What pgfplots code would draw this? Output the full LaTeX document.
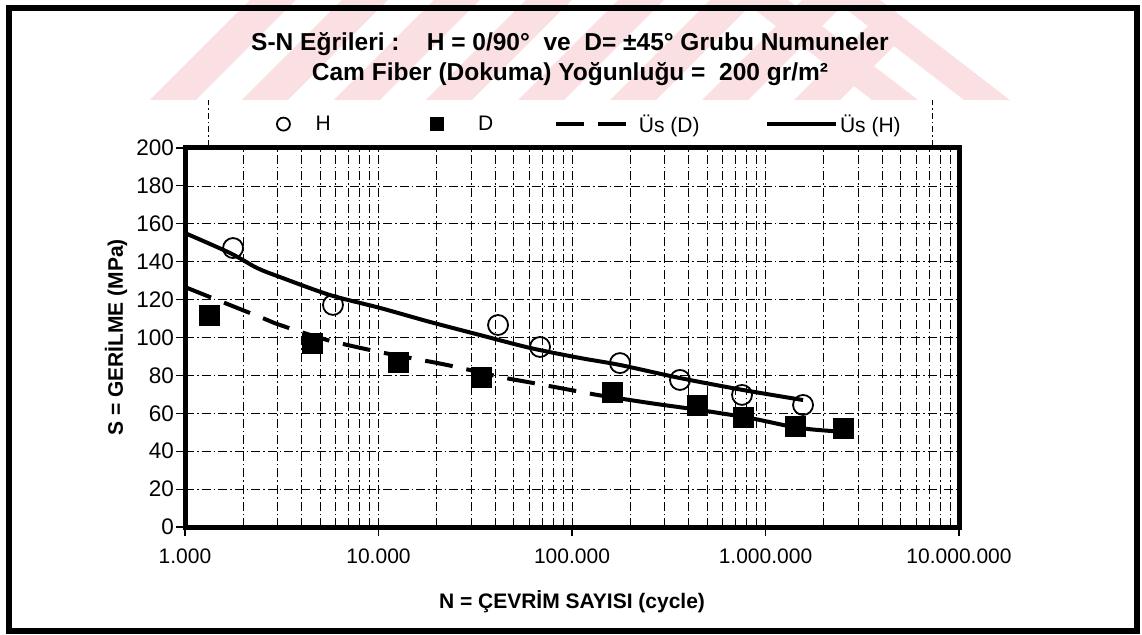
\documentclass[border=0pt]{standalone}
\usepackage{pgfplots}
\pgfplotsset{compat=1.18}
\usepackage{fontspec}
\setmainfont{Liberation Sans}
\definecolor{wm}{RGB}{250,224,227}
\pgfplotsset{
  legH/.style={legend image code/.code={\path (-30pt,0pt) (30pt,0pt); \draw[##1, mark size=6.5pt] plot coordinates {(0pt,0pt)};}},
  legD/.style={legend image code/.code={\path (-103.8pt,0pt) (39pt,0pt); \draw[##1, mark size=6.5pt] plot coordinates {(0pt,0pt)};}},
  legUD/.style={legend image code/.code={\path (-58.8pt,0pt) (79pt,0pt); \draw[##1] (0pt,0pt) -- (79pt,0pt);}},
  legUH/.style={legend image code/.code={\path (-63.4pt,0pt) (69pt,0pt); \draw[##1] (0pt,0pt) -- (69pt,0pt);}},
}
\begin{document}
\begin{tikzpicture}[x=1pt,y=1pt]
\path[use as bounding box] (0,0) rectangle (1142,634);
% watermark (decoration)
\begin{scope}
\clip (150,534) -- (1010,534) -- (880,634) -- (250,634) -- cycle;
\foreach \s in {0,92,...,644} { \fill[wm] (150+\s,534) -- ++(46,0) -- ++(100,100) -- ++(-46,0) -- cycle; }
\foreach \s in {0,92} { \fill[wm] (1010-\s,534) -- ++(-46,0) -- ++(-130,100) -- ++(46,0) -- cycle; }
\end{scope}
% legend box borders
\draw[black, line width=0.7pt, dash pattern=on 6pt off 3pt on 1.5pt off 3pt] (208,488) -- (208,534);
\draw[black, line width=0.7pt, dash pattern=on 6pt off 3pt on 1.5pt off 3pt] (932,488) -- (932,534);
% titles
\node[font=\bfseries\fontsize{24.5pt}{28pt}\selectfont] at (570,590) {S-N Eğrileri :\ \ \ \ H = 0/90°\ \ ve\ \ D= ±45° Grubu Numuneler};
\node[font=\bfseries\fontsize{24.5pt}{28pt}\selectfont] at (570,560) {Cam Fiber (Dokuma) Yoğunluğu =\ \ 200 gr/m²};
\begin{axis}[
  at={(185pt,107pt)}, anchor=south west,
  scale only axis, width=774pt, height=379pt,
  xmode=log, log basis x=10,
  xmin=1000, xmax=10000000, ymin=0, ymax=200,
  xtick={1000,10000,100000,1000000,10000000},
  xticklabels={1.000,10.000,100.000,1.000.000,10.000.000},
  minor xtick={2000,3000,4000,5000,6000,7000,8000,9000,
    20000,30000,40000,50000,60000,70000,80000,90000,
    200000,300000,400000,500000,600000,700000,800000,900000,
    2000000,3000000,4000000,5000000,6000000,7000000,8000000,9000000},
  ytick={0,20,...,200},
  xtick pos=left, ytick pos=left,
  tick align=outside, major tick length=9pt, minor tick length=0pt,
  tick style={black, line width=1.2pt},
  axis line style={line width=5pt},
  xmajorgrids, xminorgrids, ymajorgrids,
  major grid style={black, line width=0.6pt, dash pattern=on 9pt off 3pt on 1.5pt off 3pt},
  minor grid style={black, line width=0.6pt, dash pattern=on 9pt off 3pt on 1.5pt off 3pt},
  xticklabel style={font=\fontsize{21pt}{25pt}\selectfont, inner sep=2pt, yshift=-11pt},
  yticklabel style={font=\fontsize{22.5pt}{26pt}\selectfont, /pgf/number format/assume math mode=true, inner sep=2pt},
  xlabel={N = ÇEVRİM SAYISI (cycle)},
  ylabel={S = GERİLME (MPa)},
  xlabel style={at={(axis description cs:0.5,-0.198)}, anchor=center, font=\bfseries\fontsize{21pt}{25pt}\selectfont},
  ylabel style={at={(axis description cs:-0.0891,0.5)}, anchor=center, font=\bfseries\fontsize{21pt}{25pt}\selectfont},
  legend columns=4,
  legend cell align=left,
  legend style={at={(axis description cs:0.0879,1.063)}, anchor=west, fill=none, draw=none,
    inner sep=0pt, font=\fontsize{21pt}{25pt}\selectfont, nodes={inner sep=2pt},
    /tikz/every even column/.style={column sep=0pt}, /tikz/every odd column/.style={column sep=0pt}},
]
% H points
\addplot[only marks, mark=o, mark size=10pt, mark options={solid, black, line width=1.8pt}, legH]
  coordinates {(1771,147.2) (5818,117.2) (41470,106.6) (68350,95.0) (177000,86.5) (361500,77.6) (756000,69.7) (1563000,64.4)};
\addlegendentry{H}
% D points
\addplot[only marks, mark=square*, mark size=10pt, mark options={solid, black}, legD]
  coordinates {(1331,111.9) (4531,97.1) (12610,87.1) (33880,79.2) (160900,71.2) (442500,64.4) (765000,58.0) (1420000,53.3) (2516000,52.2)};
\addlegendentry{D}
% Us (D) dashed part
\addplot[black, line width=4pt, dash pattern=on 28pt off 14pt, smooth, legUD]
  coordinates {(1000,126.6) (2442,110.8) (3097,106.6) (5420,98.7) (10180,92.3) (22600,85.5) (42460,79.2) (62850,76.0) (134600,69.7)};
\addlegendentry{Üs (D)}
% Us (H)
\addplot[black, line width=4pt, smooth, legUH]
  coordinates {(1000,155.1) (1708,144.6) (2355,136.7) (3097,131.9) (5615,122.4) (10180,115.6) (18460,108.2) (33470,101.3) (60670,94.5) (109900,89.2) (177000,85.5) (361500,78.6) (765000,72.3) (1563000,67.0)};
\addlegendentry{Üs (H)}
% Us (D) solid-looking part
\addplot[black, line width=4pt, smooth, forget plot]
  coordinates {(134600,69.7) (253000,65.4) (458500,61.7) (831000,57.5) (1507000,52.2) (2638000,50.1)};
\end{axis}
% outer frame
\draw[black, line width=6pt] (8.5,3) rectangle (1136.5,625.5);
\end{tikzpicture}
\end{document}
